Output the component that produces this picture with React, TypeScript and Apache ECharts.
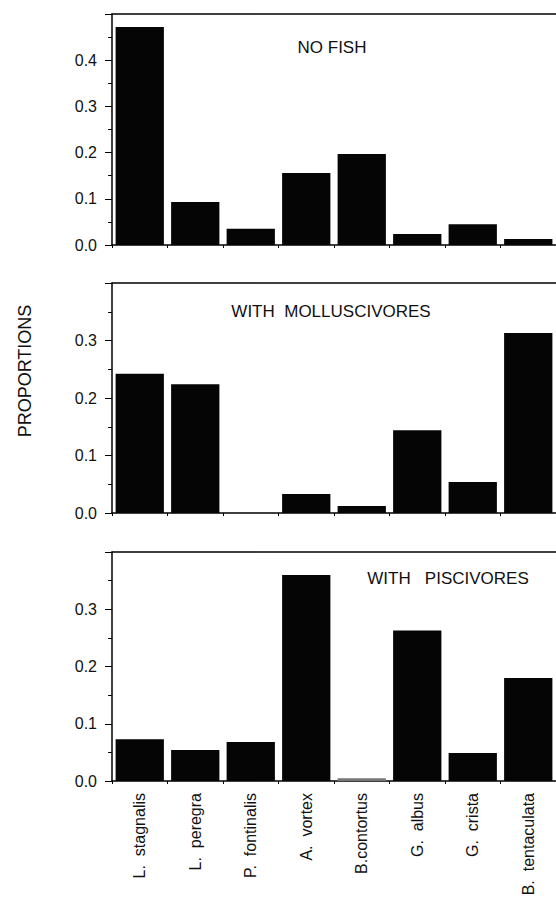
import React, { useEffect, useRef } from "react";
import * as echarts from "echarts";

const categories = [
  "L.  stagnalis",
  "L.  peregra",
  "P.  fontinalis",
  "A.  vortex",
  "B.contortus",
  "G.  albus",
  "G.  crista",
  "B.  tentaculata",
];
const noFish = [0.472, 0.093, 0.035, 0.156, 0.197, 0.024, 0.045, 0.013];
const withMolluscivores = [0.242, 0.224, 0, 0.033, 0.012, 0.144, 0.054, 0.313];
const withPiscivores = [0.073, 0.054, 0.068, 0.36, 0.005, 0.263, 0.049, 0.18];
const panelTitles = ["NO FISH", "WITH  MOLLUSCIVORES", "WITH   PISCIVORES"];
const panelMax = [0.5, 0.4, 0.4];
const yTitle = "PROPORTIONS";

const FONT = "'Liberation Sans', Arial, Helvetica, sans-serif";

export default function App() {
  const ref = useRef<HTMLDivElement>(null);
  useEffect(() => {
    if (!ref.current) return;
    const chart = echarts.init(ref.current, undefined, { renderer: "svg" });
    const grids = [
      { left: 112, top: 14, width: 452, height: 231 },
      { left: 112, top: 283, width: 452, height: 230 },
      { left: 112, top: 552, width: 452, height: 229 },
    ];
    const seriesData = [noFish, withMolluscivores, withPiscivores];
    const xAxes: any[] = [];
    const yAxes: any[] = [];
    const series: any[] = [];
    grids.forEach((g, i) => {
      xAxes.push({
        type: "category",
        gridIndex: i,
        data: categories,
        position: "bottom",
        axisLine: { show: true, lineStyle: { color: "#000", width: 1.5 } },
        axisTick: { show: true, length: 3, lineStyle: { color: "#000", width: 1 } },
        axisLabel: {
          show: i === 2,
          interval: 0,
          rotate: 90,
          margin: 12,
          fontSize: 16,
          color: "#111",
          fontFamily: FONT,
        },
        splitLine: { show: false },
      });
      xAxes.push({
        type: "category",
        gridIndex: i,
        data: categories,
        position: "top",
        axisLine: { show: true, lineStyle: { color: "#000", width: 1.5 } },
        axisTick: { show: false },
        axisLabel: { show: false },
        splitLine: { show: false },
      });
      yAxes.push({
        type: "value",
        gridIndex: i,
        min: 0,
        max: panelMax[i],
        interval: 0.1,
        axisLine: { show: true, lineStyle: { color: "#000", width: 1.5 } },
        axisTick: { show: true, length: 7, lineStyle: { color: "#000", width: 1 } },
        minorTick: { show: true, splitNumber: 2, length: 4, lineStyle: { color: "#000", width: 1 } },
        axisLabel: {
          showMaxLabel: false,
          margin: 15,
          fontSize: 16,
          color: "#111",
          fontFamily: FONT,
          formatter: (v: number) => v.toFixed(1),
        },
        splitLine: { show: false },
      });
      series.push({
        type: "bar",
        xAxisIndex: i * 2,
        yAxisIndex: i,
        data: seriesData[i].map((v, j) =>
          i === 2 && j === 4 ? { value: v, itemStyle: { color: "#777" } } : v
        ),
        barCategoryGap: "13%",
        itemStyle: { color: "#050505" },
        silent: true,
      });
    });
    const titlePos = [
      { x: 332, y: 47 },
      { x: 331, y: 311 },
      { x: 448, y: 578 },
    ];
    const graphics: any[] = panelTitles.map((t, i) => ({
      type: "text",
      x: titlePos[i].x,
      y: titlePos[i].y,
      style: {
        text: t,
        fontSize: 17,
        fontFamily: FONT,
        fill: "#111",
        align: "center",
        verticalAlign: "middle",
      },
    }));
    graphics.push({
      type: "text",
      x: 25,
      y: 371,
      rotation: Math.PI / 2,
      style: {
        text: yTitle,
        fontSize: 18,
        fontFamily: FONT,
        fill: "#111",
        align: "center",
        verticalAlign: "middle",
      },
    });
    chart.setOption({
      animation: false,
      backgroundColor: "#fff",
      grid: grids,
      xAxis: xAxes,
      yAxis: yAxes,
      series,
      graphic: graphics,
    });
    return () => chart.dispose();
  }, []);
  return (
    <div
      ref={ref}
      style={{ position: "absolute", left: 0, top: 0, width: 556, height: 910, overflow: "hidden" }}
    />
  );
}
